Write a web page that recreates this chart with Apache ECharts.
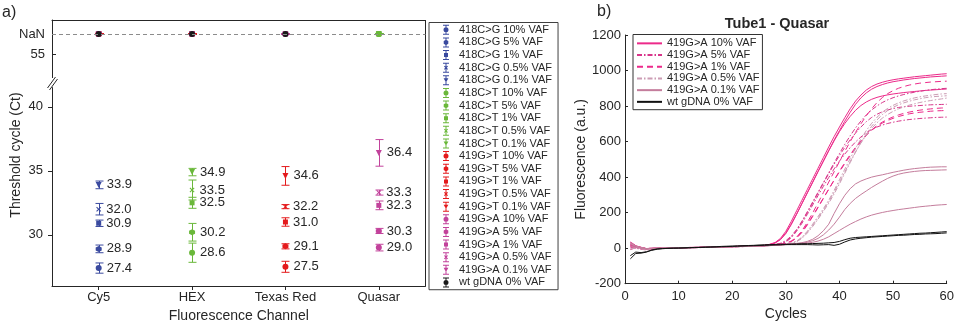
<!DOCTYPE html>
<html>
<head>
<meta charset="utf-8">
<script src="https://cdn.jsdelivr.net/npm/echarts@6/dist/echarts.min.js"></script>
<style>
  html, body { margin: 0; padding: 0; background: #fff; }
  #chart { width: 965px; height: 331px; }
</style>
</head>
<body>
<div id="chart"></div>
<script>
// ---------- Panel a: threshold cycles per fluorescence channel ----------
const channels = ['Cy5', 'HEX', 'Texas Red', 'Quasar'];
const vafLevels = ['10%', '5%', '1%', '0.5%', '0.1%'];
const assayNames = ['418C>G', '418C>T', '419G>T', '419G>A'];
const assayChannel = ['Cy5', 'HEX', 'Texas Red', 'Quasar'];

// mean Ct and spread for each VAF level (10%, 5%, 1%, 0.5%, 0.1%)
const ct418CG = [27.4, 28.9, 30.9, 32.0, 33.9];
const sd418CG = [0.4, 0.3, 0.25, 0.45, 0.3];
const ct418CT = [28.6, 30.2, 32.5, 33.5, 34.9];
const sd418CT = [0.75, 0.69, 0.43, 0.78, 0.29];
const ct419GT = [27.5, 29.1, 31.0, 32.2, 34.6];
const sd419GT = [0.43, 0.2, 0.33, 0.16, 0.73];
const ct419GA = [29.0, 30.3, 32.3, 33.3, 36.4];
const sd419GA = [0.26, 0.2, 0.34, 0.2, 1.04];

// channels where a sample gave no Ct (shown on the NaN row)
const noCt418CG = [];
const noCt418CT = ['Quasar'];
const noCt419GT = ['Cy5', 'HEX'];
const noCt419GA = ['Cy5', 'HEX', 'Texas Red'];
const noCtWt = ['Cy5', 'HEX', 'Texas Red'];
const wtName = 'wt gDNA 0% VAF';

// ---------- Panel b: Tube1 amplification curves, Quasar channel ----------
const cycles = [1,2,3,4,5,6,7,8,9,10,11,12,13,14,15,16,17,18,19,20,21,22,23,24,25,26,27,28,29,30,
  31,32,33,34,35,36,37,38,39,40,41,42,43,44,45,46,47,48,49,50,51,52,53,54,55,56,57,58,59,60];

const vaf10_a = [25,12,3,-4,-2,0,1,1,2,2,3,3,4,4,5,6,6,7,8,9,10,11,12,13,14,16,22,32,55,95,150,210,270,330,390,450,510,570,628,682,735,785,828,862,890,910,924,934,942,948,953,957,961,965,968,971,974,977,980,982];
const vaf10_b = [15,6,0,-5,-3,-1,0,1,1,2,2,3,4,4,5,5,6,7,8,9,9,10,11,12,13,15,20,29,48,82,132,190,250,310,370,430,490,550,608,662,715,765,810,846,874,895,910,921,930,937,942,947,951,955,958,961,964,966,968,970];
const vaf10_c = [30,14,4,-2,-1,0,1,1,2,3,3,4,4,5,6,6,7,8,8,9,10,11,12,13,14,16,21,30,50,86,136,192,252,312,372,432,490,548,604,656,702,742,776,803,823,838,849,857,863,868,872,876,879,882,885,888,890,892,894,896];
const vaf5_a = [20,8,1,-4,-2,0,0,1,2,2,3,3,4,5,5,6,7,7,8,9,10,10,11,12,13,14,17,21,28,42,68,105,152,205,260,315,370,425,480,533,585,633,677,716,750,778,801,820,835,847,857,865,872,878,883,888,892,895,898,900];
const vaf5_b = [-8,2,-6,-10,-5,-2,-1,0,1,1,2,2,3,3,4,5,5,6,7,8,8,9,10,11,12,13,16,20,26,38,62,100,148,200,255,310,365,420,472,522,568,610,648,682,712,736,754,768,778,786,792,796,799,801,803,805,807,808,809,810];
const vaf5_c = [10,4,-3,-7,-4,-1,0,1,1,2,3,3,4,4,5,6,6,7,8,8,9,10,10,11,12,14,17,20,25,35,58,95,140,190,243,296,348,398,446,490,530,566,598,626,650,668,682,693,702,709,715,720,724,727,730,732,734,736,737,738];
const vaf1_a = [35,15,5,-1,0,1,1,2,2,3,3,4,4,5,5,6,7,7,8,9,10,10,11,12,13,13,15,18,22,28,40,62,98,145,198,255,313,372,430,488,545,600,652,700,745,785,820,848,870,887,900,910,918,924,929,932,935,937,939,940];
const vaf1_b = [5,0,-4,-8,-3,-1,0,0,1,2,2,3,3,4,5,5,6,6,7,8,9,9,10,11,12,13,15,17,20,26,37,58,92,135,182,232,282,332,382,430,476,520,562,600,635,665,690,710,726,739,750,759,766,772,777,781,784,787,789,790];
const vaf1_c = [18,9,2,-3,-2,0,1,1,2,2,3,4,4,5,5,6,7,8,8,9,10,11,11,12,13,14,16,18,21,27,38,57,88,130,178,228,280,332,384,434,482,527,568,605,637,664,686,704,719,731,741,749,756,761,765,768,771,773,774,775];
const vaf05_a = [-5,5,-2,-6,-3,-1,0,1,1,2,2,3,3,4,4,5,6,6,7,8,9,9,10,11,12,13,15,16,18,22,28,40,62,95,135,178,222,270,325,385,445,505,562,615,662,703,737,765,787,804,818,829,838,846,852,857,861,865,868,870];
const vaf05_b = [28,11,3,-3,-1,0,1,1,2,3,3,4,5,5,6,6,7,8,9,9,10,11,12,12,13,14,15,17,17,21,26,36,55,85,122,163,207,253,305,362,422,482,540,594,643,686,722,752,775,793,807,818,827,835,841,847,851,854,856,858];
const vaf05_c = [0,-2,-5,-9,-4,-2,-1,0,1,1,2,2,3,4,4,5,5,6,7,7,8,9,10,10,11,12,14,16,18,22,27,38,58,90,128,170,214,262,315,372,430,488,543,592,636,674,706,732,753,770,784,795,805,813,820,826,831,836,840,845];
const vaf01_a = [22,10,2,-4,-2,0,0,1,1,2,3,3,4,4,5,6,6,7,7,8,9,10,11,12,12,14,16,17,19,22,24,27,31,38,50,70,98,135,195,250,298,335,362,378,390,400,407,413,420,427,433,439,444,448,451,454,456,457,458,458];
const vaf01_b = [12,5,-1,-6,-3,-1,0,1,1,2,2,3,3,4,5,5,6,7,7,8,9,10,10,11,12,13,15,16,18,21,23,25,28,33,42,55,75,102,135,175,218,252,280,302,322,342,360,377,393,406,416,423,428,432,435,437,438,439,440,441];
const vaf01_c = [32,13,4,-2,-1,0,1,2,2,3,3,4,4,5,6,6,7,8,8,9,10,11,11,12,13,14,15,17,18,20,22,23,25,28,33,40,50,64,82,100,118,135,150,164,176,186,194,201,207,212,217,221,225,229,233,236,239,242,244,246];
const wt_a = [-60,-30,-28,-22,-10,-4,-2,-1,0,1,2,3,4,5,6,7,8,10,11,12,13,14,15,16,18,19,20,21,22,22,23,24,25,25,26,27,28,30,32,38,48,56,60,62,64,66,68,70,72,74,76,78,80,82,84,85,87,89,91,93];
const wt_b = [-42,-22,-25,-20,-12,-6,-3,-1,0,0,1,2,3,4,5,6,7,8,9,10,11,12,13,14,15,16,17,18,19,20,20,20,20,20,19,18,19,20,16,22,35,46,52,56,59,62,64,66,68,70,72,73,75,77,78,80,81,82,84,86];

const curveNames = ['419G>A 10% VAF', '419G>A 5% VAF', '419G>A 1% VAF', '419G>A 0.5% VAF', '419G>A 0.1% VAF', 'wt gDNA 0% VAF'];
const curveRuns = [
  [vaf10_a, vaf10_b, vaf10_c],
  [vaf5_a, vaf5_b, vaf5_c],
  [vaf1_a, vaf1_b, vaf1_c],
  [vaf05_a, vaf05_b, vaf05_c],
  [vaf01_a, vaf01_b, vaf01_c],
  [wt_a, wt_b]
];

// ---------- styling ----------
const FONT = '"Liberation Sans", Arial, Helvetica, sans-serif';
const INK = '#262626';
const ASSAY_COLORS = ['#3a4a9f', '#6ab83a', '#e41a1c', '#c2429b'];
const WT_COLOR = '#1a1a1a';
const CURVE_STYLES = [
  { color: '#ec2a8a', type: 'solid' },
  { color: '#d8358a', type: [5, 2, 1.5, 2] },
  { color: '#ec2a8a', type: [6, 4] },
  { color: '#cc9cb4', type: [5, 2, 1.5, 2] },
  { color: '#c47d9c', type: 'solid' },
  { color: '#111111', type: 'solid' }
];
// panel b series ids carry this prefix so they stay apart from panel a names
const CURVE_KEY = 'b|';

// panel a layout: upper strip (NaN row) and lower strip (measured Ct) with an axis break
const A = { left: 52, right: 425.5, top: 20, upperH: 57.6, lowerTop: 87.6, bottom: 286 };
const B = { left: 625, top: 35, width: 321.7, height: 248.7 };
const NAN_ROW = 56.6;

const VAF_MARKERS = ['circle', 'hexagon', 'square', 'cross', 'triangleDown'];
const SYMBOLS = {
  circle: 'circle',
  hexagon: 'path://M0 -10L8.66 -5L8.66 5L0 10L-8.66 5L-8.66 -5Z',
  square: 'rect',
  cross: 'path://M-10 -7L-7 -10L0 -3L7 -10L10 -7L3 0L10 7L7 10L0 3L-7 10L-10 7L-3 0Z',
  triangleDown: 'path://M-10 -8L10 -8L0 9Z'
};
const SIZES = { circle: 6, hexagon: 6, square: 5, cross: 5, triangleDown: 6 };

// legend glyphs: error bar with caps plus the marker, in a 160 x 100 box
const ICON_FRAME = 'M0 0L1 0L0 1Z M160 100L159 100L160 99Z M50 0H110V10H50Z M50 90H110V100H50Z ';
const ICONS = {
  circle: ICON_FRAME + 'M75 10H85V26H75Z M75 74H85V90H75Z M55 50A25 25 0 1 1 105 50A25 25 0 1 1 55 50Z',
  hexagon: ICON_FRAME + 'M75 10H85V25H75Z M75 75H85V90H75Z M80 23L103 36.5L103 63.5L80 77L57 63.5L57 36.5Z',
  square: ICON_FRAME + 'M75 10H85V31H75Z M75 69H85V90H75Z M60 30H100V70H60Z',
  cross: ICON_FRAME + 'M75 10H85V44H75Z M75 56H85V90H75Z M60 37L67 30L80 43L93 30L100 37L87 50L100 63L93 70L80 57L67 70L60 63L73 50Z',
  triangleDown: ICON_FRAME + 'M75 10H85V31H75Z M75 66H85V90H75Z M56 30H104L80 72Z'
};

function errorBar(params, api) {
  const x = api.value(0), y = api.value(1), e = api.value(2);
  const hi = api.coord([x, y + e]);
  const lo = api.coord([x, y - e]);
  const cx = Math.round(hi[0]) + 0.5;
  const half = 4;
  const style = { stroke: api.visual('color'), lineWidth: 1 };
  return {
    type: 'group',
    children: [
      { type: 'line', shape: { x1: cx, y1: hi[1], x2: cx, y2: lo[1] }, style },
      { type: 'line', shape: { x1: cx - half, y1: hi[1], x2: cx + half, y2: hi[1] }, style },
      { type: 'line', shape: { x1: cx - half, y1: lo[1], x2: cx + half, y2: lo[1] }, style }
    ]
  };
}

const series = [];
const legendA = [];

// dashed reference line of the NaN row
series.push({
  type: 'scatter', xAxisIndex: 1, yAxisIndex: 1, data: [], silent: true, z: 0,
  markLine: {
    silent: true, symbol: ['none', 'none'], label: { show: false },
    lineStyle: { color: '#8c8c8c', type: [4, 3], width: 1 },
    emphasis: { disabled: true },
    data: [{ yAxis: NAN_ROW }]
  }
});

const assayCt = [ct418CG, ct418CT, ct419GT, ct419GA];
const assaySd = [sd418CG, sd418CT, sd419GT, sd419GA];
const assayNoCt = [noCt418CG, noCt418CT, noCt419GT, noCt419GA];

assayNames.forEach((assay, a) => {
  const ch = channels.indexOf(assayChannel[a]);
  const color = ASSAY_COLORS[a];
  vafLevels.forEach((vaf, v) => {
    const name = assay + ' ' + vaf + ' VAF';
    const mk = VAF_MARKERS[v];
    const ct = assayCt[a][v];
    legendA.push({ name, icon: 'path://' + ICONS[mk], itemStyle: { color } });
    series.push({
      type: 'custom', name, xAxisIndex: 0, yAxisIndex: 0, z: 2, silent: true,
      renderItem: errorBar, itemStyle: { color },
      data: [[ch, ct, assaySd[a][v]]]
    });
    series.push({
      type: 'scatter', name, xAxisIndex: 0, yAxisIndex: 0, z: 3, silent: true,
      symbol: SYMBOLS[mk], symbolSize: SIZES[mk],
      itemStyle: { color, opacity: 1 },
      label: {
        show: true, position: 'right', distance: 5,
        formatter: p => p.value[1].toFixed(1),
        fontSize: 13, fontFamily: FONT, color: INK
      },
      data: [[ch, ct]]
    });
    const nanPts = assayNoCt[a].map(c => [channels.indexOf(c), NAN_ROW]);
    if (nanPts.length) {
      series.push({
        type: 'custom', name, xAxisIndex: 1, yAxisIndex: 1, z: assay === '419G>T' ? 2 : 1, silent: true,
        renderItem: errorBar, itemStyle: { color },
        data: nanPts.map(p => [p[0], p[1], 0])
      });
      series.push({
        type: 'scatter', name, xAxisIndex: 1, yAxisIndex: 1, z: 3, silent: true,
        symbol: SYMBOLS[mk], symbolSize: SIZES[mk], itemStyle: { color, opacity: 1 },
        data: nanPts
      });
    }
  });
});

legendA.push({ name: wtName, icon: 'path://' + ICONS.circle, itemStyle: { color: WT_COLOR } });
series.push({
  type: 'scatter', name: wtName, xAxisIndex: 1, yAxisIndex: 1, z: 4, silent: true,
  symbol: 'circle', symbolSize: 6, itemStyle: { color: WT_COLOR, opacity: 1 },
  data: noCtWt.map(c => [channels.indexOf(c), NAN_ROW])
});

// amplification curves
curveNames.forEach((label, g) => {
  const st = CURVE_STYLES[g];
  curveRuns[g].forEach(run => {
    series.push({
      type: 'line', name: CURVE_KEY + label, xAxisIndex: 2, yAxisIndex: 2, z: 2, silent: true,
      symbol: 'none', showSymbol: false,
      lineStyle: { color: st.color, width: 1, type: st.type },
      itemStyle: { color: st.color },
      data: cycles.map((c, i) => [c, run[i]])
    });
  });
});

const axisText = { color: INK, fontFamily: FONT, fontSize: 13 };
const nameText = { color: INK, fontFamily: FONT, fontSize: 14 };
const inkLine = { lineStyle: { color: INK, width: 1 } };

const option = {
  animation: false,
  backgroundColor: '#fff',
  textStyle: { fontFamily: FONT },
  grid: [
    { left: A.left, top: A.lowerTop, width: A.right - A.left, height: A.bottom - A.lowerTop },
    { left: A.left, top: A.top, width: A.right - A.left, height: A.upperH },
    { left: B.left, top: B.top, width: B.width, height: B.height }
  ],
  xAxis: [
    {
      type: 'category', gridIndex: 0, data: channels, boundaryGap: true,
      axisLine: { show: true, onZero: false, ...inkLine },
      axisTick: { show: true, alignWithLabel: true, length: 4, ...inkLine },
      axisLabel: { ...axisText, margin: 5 },
      splitLine: { show: false },
      name: 'Fluorescence Channel', nameLocation: 'middle', nameGap: 22,
      nameTextStyle: nameText
    },
    {
      type: 'category', gridIndex: 1, data: channels, boundaryGap: true, position: 'top',
      axisLine: { show: true, onZero: false, ...inkLine },
      axisTick: { show: false }, axisLabel: { show: false }, splitLine: { show: false }
    },
    {
      type: 'value', gridIndex: 2, min: 0, max: 60, interval: 10,
      axisLine: { show: true, onZero: false, ...inkLine },
      axisTick: { show: true, inside: true, length: 3, ...inkLine },
      axisLabel: { ...axisText, margin: 6, formatter: v => String(v) },
      splitLine: { show: false },
      name: 'Cycles', nameLocation: 'middle', nameGap: 22, nameTextStyle: nameText
    }
  ],
  yAxis: [
    {
      type: 'value', gridIndex: 0, min: 26, max: 41.5,
      axisLine: { show: true, onZero: false, ...inkLine },
      axisTick: { show: true, length: 4, customValues: [30, 35, 40], ...inkLine },
      axisLabel: { ...axisText, margin: 9, customValues: [30, 35, 40] },
      splitLine: { show: false }
    },
    {
      type: 'value', gridIndex: 1, min: 53.2, max: 57.7,
      axisLine: { show: true, onZero: false, ...inkLine },
      axisTick: { show: true, inside: true, length: 4, customValues: [55, NAN_ROW], ...inkLine },
      axisLabel: {
        ...axisText, margin: 7, customValues: [55, NAN_ROW],
        formatter: v => (v === NAN_ROW ? 'NaN' : String(v))
      },
      splitLine: { show: false }
    },
    {
      type: 'value', gridIndex: 2, min: -200, max: 1200, interval: 200,
      axisLine: { show: true, onZero: false, ...inkLine },
      axisTick: { show: true, inside: true, length: 3, ...inkLine },
      axisLabel: { ...axisText, margin: 4, formatter: v => String(v) },
      splitLine: { show: false },
      name: 'Fluorescence (a.u.)', nameLocation: 'middle', nameGap: 37, nameTextStyle: nameText
    }
  ],
  legend: [
    {
      data: legendA, orient: 'vertical', left: 429, top: 22.5,
      itemWidth: 16, itemHeight: 10, itemGap: 0,
      padding: [1, 6, 1, 9],
      borderColor: '#404040', borderWidth: 1, backgroundColor: '#fff',
      selectedMode: false,
      textStyle: { fontSize: 11, lineHeight: 12.63, color: INK, fontFamily: FONT }
    },
    {
      data: curveNames.map(n => CURVE_KEY + n), orient: 'vertical', left: 633, top: 34.5,
      itemWidth: 25, itemHeight: 8, itemGap: 0,
      padding: [3, 3, 2, 3],
      borderColor: '#333', borderWidth: 1, backgroundColor: '#fff',
      selectedMode: false, z: 10,
      // curve swatches are plain line samples without a marker
      itemStyle: { opacity: 0 },
      formatter: n => n.slice(CURVE_KEY.length),
      textStyle: { fontSize: 11, lineHeight: 11.7, color: INK, fontFamily: FONT }
    }
  ],
  graphic: [
    { type: 'text', x: 2, y: 5, style: { text: 'a)', fontSize: 16, fontFamily: FONT, fill: INK } },
    { type: 'text', x: 597, y: 4, style: { text: 'b)', fontSize: 16, fontFamily: FONT, fill: INK } },
    {
      type: 'text', x: 777, y: 24,
      style: { text: 'Tube1 - Quasar', fontSize: 14.5, fontWeight: 'bold', fontFamily: FONT, fill: INK, align: 'center', verticalAlign: 'middle' }
    },
    {
      type: 'text', x: 16, y: 155, rotation: Math.PI / 2,
      style: { text: 'Threshold cycle (Ct)', fontSize: 14, fontFamily: FONT, fill: INK, align: 'center', verticalAlign: 'middle' }
    },
    // right edge of the panel a frame
    { type: 'line', shape: { x1: A.right, y1: A.top, x2: A.right, y2: A.bottom }, style: { stroke: INK, lineWidth: 1 } },
    // axis-break marks
    { type: 'line', shape: { x1: 47.5, y1: 88, x2: 55.5, y2: 77 }, style: { stroke: INK, lineWidth: 1 } },
    { type: 'line', shape: { x1: 49.5, y1: 90, x2: 57.5, y2: 79 }, style: { stroke: INK, lineWidth: 1 } }
  ],
  series
};

const chart = echarts.init(document.getElementById('chart'), null, { renderer: 'canvas' });
chart.setOption(option);
</script>
</body>
</html>
